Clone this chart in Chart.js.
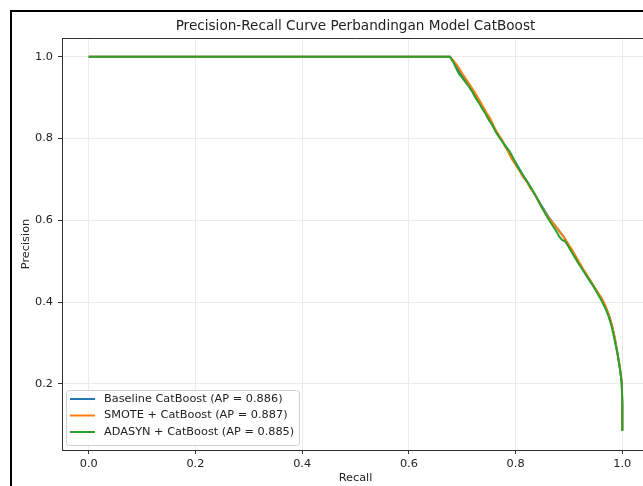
<!DOCTYPE html>
<html lang="en">
<head>
    <meta charset="UTF-8">
    <title>Precision-Recall Curve</title>
    <style>
        body {
            margin: 0;
            padding: 0;
            overflow: hidden;
            background-color: #ffffff;
            width: 643px;
            height: 486px;
        }

        .frame {
            position: absolute;
            left: 10px;
            top: 10px;
            width: 700px;
            height: 520px;
            border-left: 2px solid #000;
            border-top: 2px solid #000;
        }

        #prCanvas {
            position: absolute;
            left: 0;
            top: 0;
        }
    </style>
</head>
<body>
    <div class="frame"></div>
    <canvas id="prCanvas" width="680" height="486"></canvas>

    <script src="https://cdn.jsdelivr.net/npm/chart.js"></script>
    <script>
        // chart text
        const chartTitle = 'Precision-Recall Curve Perbandingan Model CatBoost';
        const xLabel = 'Recall';
        const yLabel = 'Precision';
        const seriesNames = [
            'Baseline CatBoost (AP = 0.886)',
            'SMOTE + CatBoost (AP = 0.887)',
            'ADASYN + CatBoost (AP = 0.885)'
        ];
        const seriesColors = ['#1f77b4', '#ff7f0e', '#2ca02c'];

        // tick positions / labels
        const xTicks = [0.0, 0.2, 0.4, 0.6, 0.8, 1.0];
        const xTickLabels = ['0.0', '0.2', '0.4', '0.6', '0.8', '1.0'];
        const yTicks = [0.2, 0.4, 0.6, 0.8, 1.0];
        const yTickLabels = ['0.2', '0.4', '0.6', '0.8', '1.0'];

        // curves
        const recallBaseline = [0.000, 0.677, 0.684, 0.690, 0.695, 0.701, 0.707, 0.713, 0.719, 0.726, 0.733, 0.739, 0.745, 0.751, 0.757, 0.763, 0.769, 0.775, 0.781, 0.787, 0.793, 0.800, 0.807, 0.814, 0.821, 0.828, 0.835, 0.842, 0.849, 0.856, 0.863, 0.870, 0.877, 0.884, 0.890, 0.896, 0.903, 0.911, 0.918, 0.926, 0.933, 0.941, 0.948, 0.955, 0.962, 0.968, 0.975, 0.981, 0.986, 0.990, 0.994, 0.997, 0.999, 1.000, 1.000];
        const precisionBaseline = [1.000, 1.000, 0.988, 0.974, 0.962, 0.952, 0.941, 0.929, 0.917, 0.903, 0.887, 0.873, 0.860, 0.846, 0.832, 0.818, 0.806, 0.794, 0.780, 0.767, 0.754, 0.741, 0.726, 0.710, 0.696, 0.680, 0.665, 0.650, 0.635, 0.620, 0.606, 0.594, 0.582, 0.570, 0.560, 0.546, 0.530, 0.513, 0.497, 0.481, 0.465, 0.450, 0.435, 0.421, 0.406, 0.390, 0.367, 0.341, 0.311, 0.281, 0.251, 0.223, 0.200, 0.150, 0.085];
        const recallSmote = [0.000, 0.677, 0.684, 0.690, 0.696, 0.702, 0.708, 0.715, 0.721, 0.727, 0.734, 0.740, 0.746, 0.752, 0.758, 0.763, 0.769, 0.775, 0.780, 0.786, 0.792, 0.799, 0.806, 0.813, 0.821, 0.828, 0.836, 0.842, 0.849, 0.856, 0.863, 0.871, 0.878, 0.885, 0.892, 0.898, 0.905, 0.912, 0.919, 0.926, 0.934, 0.941, 0.948, 0.955, 0.962, 0.968, 0.975, 0.981, 0.986, 0.990, 0.994, 0.997, 0.999, 1.000, 1.000];
        const precisionSmote = [1.000, 1.000, 0.990, 0.980, 0.968, 0.955, 0.944, 0.930, 0.918, 0.905, 0.890, 0.876, 0.862, 0.850, 0.834, 0.820, 0.808, 0.796, 0.782, 0.768, 0.752, 0.738, 0.724, 0.708, 0.694, 0.678, 0.664, 0.648, 0.632, 0.618, 0.604, 0.592, 0.580, 0.568, 0.556, 0.544, 0.530, 0.514, 0.498, 0.482, 0.466, 0.451, 0.436, 0.422, 0.408, 0.392, 0.368, 0.342, 0.312, 0.282, 0.252, 0.224, 0.200, 0.150, 0.085];
        const recallAdasyn = [0.000, 0.677, 0.684, 0.690, 0.694, 0.699, 0.705, 0.712, 0.718, 0.724, 0.731, 0.738, 0.744, 0.750, 0.757, 0.762, 0.768, 0.774, 0.781, 0.788, 0.794, 0.800, 0.806, 0.813, 0.820, 0.828, 0.835, 0.842, 0.848, 0.855, 0.862, 0.869, 0.876, 0.882, 0.887, 0.893, 0.899, 0.906, 0.913, 0.920, 0.928, 0.936, 0.944, 0.952, 0.960, 0.967, 0.974, 0.980, 0.985, 0.990, 0.994, 0.997, 0.999, 1.000, 1.000];
        const precisionAdasyn = [1.000, 1.000, 0.985, 0.968, 0.958, 0.950, 0.940, 0.928, 0.916, 0.902, 0.888, 0.872, 0.860, 0.845, 0.832, 0.818, 0.806, 0.794, 0.782, 0.770, 0.756, 0.740, 0.726, 0.712, 0.698, 0.682, 0.666, 0.650, 0.634, 0.618, 0.602, 0.588, 0.574, 0.560, 0.552, 0.548, 0.536, 0.520, 0.505, 0.490, 0.474, 0.458, 0.442, 0.424, 0.406, 0.388, 0.366, 0.340, 0.310, 0.280, 0.250, 0.222, 0.200, 0.150, 0.085];

        function toPoints(xs, ys) {
            return xs.map(function(x, i) { return { x: x, y: ys[i] }; });
        }

        const FONT = '"DejaVu Sans", sans-serif';

        // title, axis labels, top spine and the legend box
        const decorPlugin = {
            id: 'decor',
            afterDraw(chart) {
                const ctx = chart.ctx;
                const area = chart.chartArea;
                ctx.save();

                // top spine
                ctx.strokeStyle = '#333';
                ctx.lineWidth = 1;
                ctx.beginPath();
                ctx.moveTo(area.left, area.top + 0.5);
                ctx.lineTo(area.right, area.top + 0.5);
                ctx.stroke();

                ctx.fillStyle = '#222';
                ctx.textAlign = 'center';
                ctx.textBaseline = 'middle';
                ctx.font = '13.6px ' + FONT;
                ctx.fillText(chartTitle, (area.left + area.right) / 2, 26);

                ctx.font = '11.3px ' + FONT;
                ctx.fillText(xLabel, (area.left + area.right) / 2, 478);
                ctx.save();
                ctx.translate(26, (area.top + area.bottom) / 2);
                ctx.rotate(-Math.PI / 2);
                ctx.fillText(yLabel, 0, 0);
                ctx.restore();

                // legend
                const lx = 66.5, ly = 390.5, lw = 233, lh = 55, r = 3;
                ctx.beginPath();
                ctx.moveTo(lx + r, ly);
                ctx.lineTo(lx + lw - r, ly);
                ctx.arcTo(lx + lw, ly, lx + lw, ly + r, r);
                ctx.lineTo(lx + lw, ly + lh - r);
                ctx.arcTo(lx + lw, ly + lh, lx + lw - r, ly + lh, r);
                ctx.lineTo(lx + r, ly + lh);
                ctx.arcTo(lx, ly + lh, lx, ly + lh - r, r);
                ctx.lineTo(lx, ly + r);
                ctx.arcTo(lx, ly, lx + r, ly, r);
                ctx.closePath();
                ctx.fillStyle = 'rgba(255,255,255,0.8)';
                ctx.fill();
                ctx.strokeStyle = '#d0d0d0';
                ctx.stroke();

                ctx.textAlign = 'left';
                ctx.font = '11.3px ' + FONT;
                seriesNames.forEach(function(name, i) {
                    const y = 399 + i * 16.5;
                    ctx.strokeStyle = seriesColors[i];
                    ctx.lineWidth = 2;
                    ctx.beginPath();
                    ctx.moveTo(70, y);
                    ctx.lineTo(95, y);
                    ctx.stroke();
                    ctx.fillStyle = '#222';
                    ctx.fillText(name, 104, y);
                });

                ctx.restore();
            }
        };

        const ctx = document.getElementById('prCanvas').getContext('2d');

        const datasets = [
            { label: seriesNames[0], data: toPoints(recallBaseline, precisionBaseline), borderColor: seriesColors[0], order: 3 },
            { label: seriesNames[1], data: toPoints(recallSmote, precisionSmote), borderColor: seriesColors[1], order: 2 },
            { label: seriesNames[2], data: toPoints(recallAdasyn, precisionAdasyn), borderColor: seriesColors[2], order: 1 }
        ].map(function(d) {
            return Object.assign(d, {
                showLine: true,
                borderWidth: 2,
                pointRadius: 0,
                fill: false,
                tension: 0
            });
        });

        new Chart(ctx, {
            type: 'scatter',
            data: { datasets: datasets },
            options: {
                responsive: false,
                animation: false,
                events: [],
                layout: { padding: { left: 0, top: 38, right: 31, bottom: 0 } },
                plugins: {
                    legend: { display: false },
                    title: { display: false },
                    tooltip: { enabled: false }
                },
                scales: {
                    x: {
                        type: 'linear',
                        min: -0.05,
                        max: 1.05,
                        afterFit: function(scale) { scale.height = 36; },
                        afterBuildTicks: function(scale) {
                            scale.ticks = xTicks.map(function(v) { return { value: v }; });
                        },
                        ticks: {
                            padding: 3,
                            color: '#222',
                            font: { family: FONT, size: 11.3 },
                            maxRotation: 0,
                            callback: function(value) {
                                return xTickLabels[xTicks.indexOf(value)];
                            }
                        },
                        grid: { color: '#ebebeb', lineWidth: 1, tickLength: 4, tickColor: '#333' },
                        border: { display: true, color: '#333', width: 1 }
                    },
                    y: {
                        type: 'linear',
                        min: 0.038,
                        max: 1.046,
                        afterFit: function(scale) { scale.width = 62; },
                        afterBuildTicks: function(scale) {
                            scale.ticks = yTicks.map(function(v) { return { value: v }; });
                        },
                        ticks: {
                            padding: 5,
                            color: '#222',
                            font: { family: FONT, size: 11.3 },
                            callback: function(value) {
                                return yTickLabels[yTicks.indexOf(value)];
                            }
                        },
                        grid: { color: '#ebebeb', lineWidth: 1, tickLength: 4, tickColor: '#333' },
                        border: { display: true, color: '#333', width: 1 }
                    }
                }
            },
            plugins: [decorPlugin]
        });
    </script>
</body>
</html>
